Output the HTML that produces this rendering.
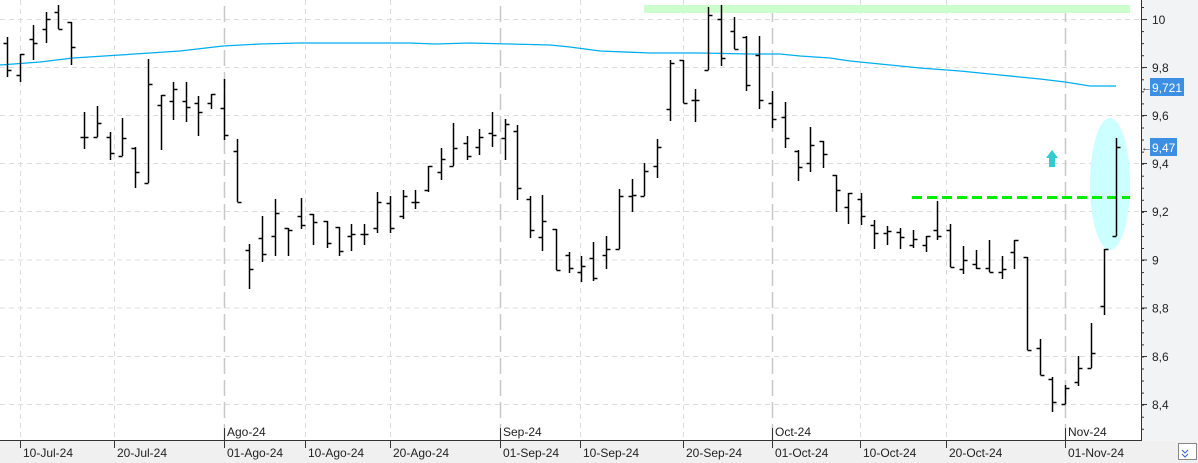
<!DOCTYPE html>
<html><head><meta charset="utf-8"><style>
html,body{margin:0;padding:0;background:#fff;}
svg{display:block;font-family:"Liberation Sans",sans-serif;}
</style></head><body>
<svg id="s" width="1198" height="463" xmlns="http://www.w3.org/2000/svg">
<rect x="0" y="0" width="1198" height="463" fill="#fff"/>
<rect x="1142" y="0" width="56" height="463" fill="#f2f3f5"/>
<rect x="0" y="441" width="1198" height="22" fill="#f0f0f0"/>
<g id="grid"></g>
<rect x="644" y="5" width="486" height="8" fill="#ccffcc"/>
<ellipse cx="1110" cy="184" rx="20" ry="66" fill="#ccffff"/>
<line x1="912" y1="197.5" x2="1130" y2="197.5" stroke="#00ee00" stroke-width="3" stroke-dasharray="10,5"/>
<polygon points="1052,150 1058,158 1055,158 1055,167 1049,167 1049,158 1046,158" fill="#33cccc"/>
<polyline fill="none" stroke="#00aeef" stroke-width="1.3" points="0,65 40,62 73,58 120,55 180,51 223,46 260,44 300,43 410,43 435,44 470,43 510,44 550,45 570,47 600,51 650,53 700,53 750,54 780,54 800,56 830,58 850,61 880,64 920,68 960,71 1000,75 1040,79 1065,82 1090,86 1116,86"/>
<g id="bars" stroke="#000" stroke-width="1.5"></g>
<line x1="0" y1="440.5" x2="1142" y2="440.5" stroke="#333"/>
<line x1="1141.5" y1="0" x2="1141.5" y2="441" stroke="#333"/>
<g id="axis" font-size="12" fill="#222"></g>
<rect x="1150" y="78" width="34" height="18" fill="#3d8fe3"/>
<text x="1152" y="92" font-size="12" fill="#fff">9,721</text>
<text x="1141" y="91" font-size="11" fill="#333">←</text>
<rect x="1150" y="138" width="27" height="18" fill="#3d8fe3"/>
<text x="1152" y="152" font-size="12" fill="#fff">9,47</text>
<text x="1141" y="151" font-size="11" fill="#333">←</text>
<rect x="1178.5" y="443.5" width="18" height="16" fill="#fff" stroke="#888"/>
<path d="M1182 450 l3 3 3-3 M1182 454 l3 3 3-3" stroke="#3366cc" fill="none"/>
</svg>
<script>
var NS="http://www.w3.org/2000/svg";
function el(p,t,a,txt){var e=document.createElementNS(NS,t);for(var k in a)e.setAttribute(k,a[k]);if(txt)e.textContent=txt;p.appendChild(e);return e;}
var g=document.getElementById('grid');
var ys=[19.5,67.5,115.5,163.5,211.5,260,308,356.5,404.5];
ys.forEach(function(y){el(g,'line',{x1:0,y1:y,x2:1140,y2:y,stroke:'#dcdcdc','stroke-dasharray':'5,4'});});
[20,114,305,390,580,683,860,946].forEach(function(x){el(g,'line',{x1:x+.5,y1:0,x2:x+.5,y2:440,stroke:'#dcdcdc','stroke-dasharray':'5,4'});});
[224,500,772,1065].forEach(function(x){el(g,'line',{x1:x+.5,y1:6,x2:x+.5,y2:440,stroke:'#c8c8c8','stroke-width':1.5,'stroke-dasharray':'16,6'});});
var B=[[7,37,77,43,70],[20,54,82,75,54],[33,25,60,39,43],[46,12,43,29,19],[58,5,29,12,29],[71,22,65,22,47],
[84,112,149,137,137],[97,106,137,137,123],[110,132,160,137,153],[122,118,156,156,138],[135,147,188,148,172],[148,59,183,183,84],
[161,95,150,105,95],[173,82,120,101,89],[186,82,122,101,107],[198,96,136,103,112],[211,94,109,103,94],[224,79,140,108,135],
[237,139,202,151,202],[249,244,289,250,269],[262,216,262,238,254],[275,199,256,236,213],[288,228,256,228,230],
[301,198,229,216,225],[313,214,245,214,222],[327,221,248,221,243],[339,227,256,227,251],[351,224,251,236,234],[364,224,245,234,234],
[377,192,233,228,202],[390,196,233,203,228],[403,190,219,216,196],[415,190,209,202,202],[428,166,192,190,166],[441,148,180,172,159],
[453,123,166,166,148],[467,136,160,143,156],[479,129,155,147,137],[492,112,147,133,135],[505,119,160,138,124],[517,125,200,131,188],
[530,196,238,199,230],[542,195,251,237,221],[556,229,270,229,270],[569,252,273,255,268],[581,256,282,272,266],[593,242,281,258,278],
[606,236,269,255,249],[619,189,249,249,196],[632,179,212,196,195],[644,163,196,196,171],[657,139,178,166,147],[670,60,121,109,63],
[683,60,103,60,103],[695,89,122,100,100],[708,7,70,70,15],[721,5,66,19,58],[734,17,49,31,49],[746,36,91,37,85],[759,36,109,55,100],
[772,91,128,103,119],[785,102,148,117,138],[798,150,181,151,167],[810,127,172,163,145],[823,141,168,141,154],[836,175,212,175,190],
[848,193,224,207,193],[861,193,225,199,216],[874,220,249,225,233],[887,226,245,233,231],[900,228,249,232,237],[913,230,248,245,239],
[926,236,252,245,236],[937,201,240,230,236],[950,224,267,230,267],[963,246,274,269,260],[976,250,269,264,268],[989,240,272,268,272],
[1002,256,279,272,269],[1014,240,269,252,240],[1027,257,350,257,350],[1040,339,375,348,375],[1052,377,412,379,402],[1065,385,404,404,388],
[1078,356,386,382,368],[1091,323,368,368,353],[1104,249,315,306,249],[1116,138,236,236,147]];
var b=document.getElementById('bars');
B.forEach(function(r){var x=r[0]+.5;
el(b,'line',{x1:x,y1:r[1],x2:x,y2:r[2]});
el(b,'line',{x1:x-4,y1:r[3]+.5,x2:x,y2:r[3]+.5});
el(b,'line',{x1:x,y1:r[4]+.5,x2:x+4,y2:r[4]+.5});});
var a=document.getElementById('axis');
var lab=['10','9,8','9,6','9,4','9,2','9','8,8','8,6','8,4'];
ys.forEach(function(y,i){el(a,'text',{x:1152,y:y+4.5},lab[i]);el(a,'line',{x1:1141,y1:y,x2:1147,y2:y,stroke:'#333'});});
for(var y=7.5;y<440;y+=12.05){el(a,'line',{x1:1141,y1:y,x2:1144,y2:y,stroke:'#333'});}
var D=[[20,'10-Jul-24'],[114,'20-Jul-24'],[224,'01-Ago-24'],[305,'10-Ago-24'],[390,'20-Ago-24'],[500,'01-Sep-24'],[580,'10-Sep-24'],[683,'20-Sep-24'],[772,'01-Oct-24'],[860,'10-Oct-24'],[946,'20-Oct-24'],[1065,'01-Nov-24']];
D.forEach(function(d){el(a,'line',{x1:d[0]+.5,y1:440,x2:d[0]+.5,y2:448,stroke:'#333'});el(a,'text',{x:d[0]+3,y:457},d[1]);});
[[224,'Ago-24'],[500,'Sep-24'],[772,'Oct-24'],[1065,'Nov-24']].forEach(function(d){el(a,'line',{x1:d[0]+.5,y1:428,x2:d[0]+.5,y2:440,stroke:'#333'});el(a,'text',{x:d[0]+3,y:436},d[1]);});
</script>
</body></html>
